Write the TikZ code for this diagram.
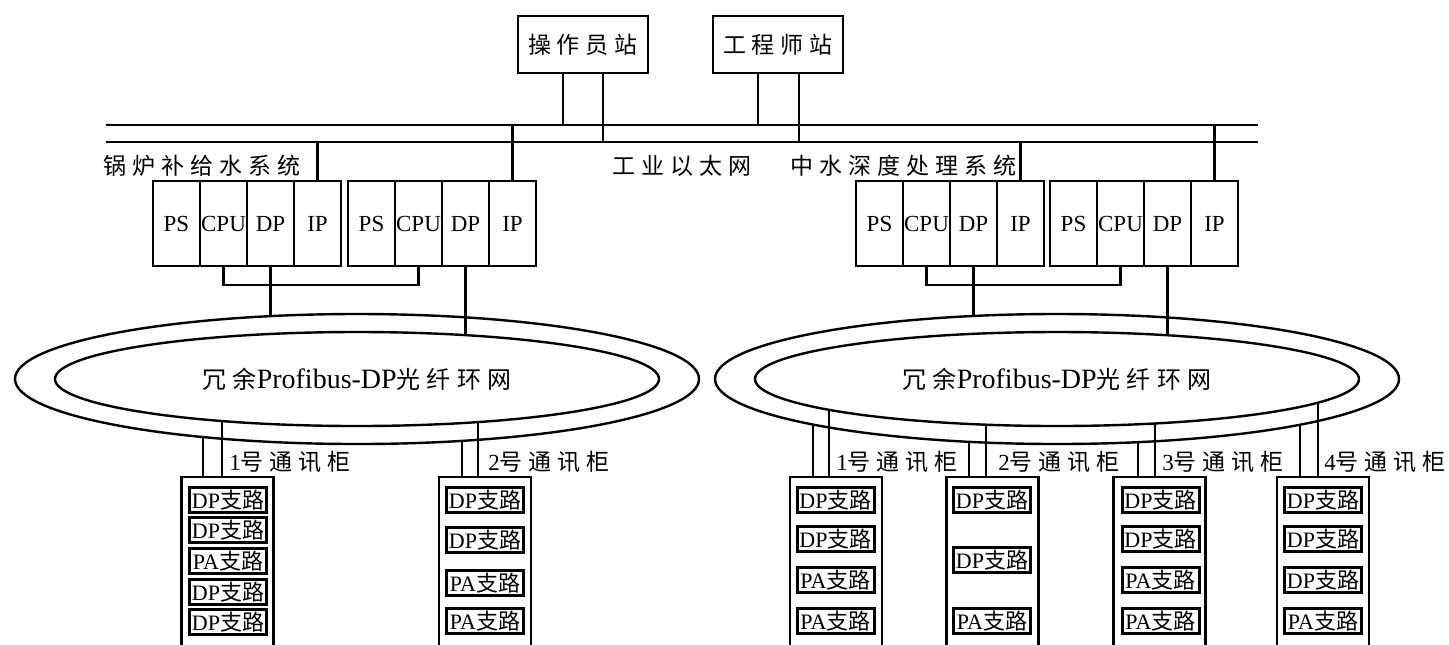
\documentclass[tikz,border=0pt]{standalone}
\usepackage{fontspec}
\setmainfont{Liberation Serif}
\newfontfamily\cjk{Noto Sans CJK SC}
\newfontfamily\cjkw[LetterSpace=26]{Noto Sans CJK SC}
\usetikzlibrary{shapes.geometric,calc}
\newcommand{\ringpt}[6]{\coordinate (#1) at ({#2},{379#6#5*sqrt(1-((#2-(#3))/#4)^2)});}
\newcommand{\dpz}{DP{\cjk\fontsize{11}{11}\selectfont 支路}}
\newcommand{\paz}{PA{\cjk\fontsize{11}{11}\selectfont 支路}}
\tikzset{
  box/.style={draw, rectangle, line width=1.1pt, inner sep=0pt, outer sep=0pt},
  stat/.style={box, minimum width=65pt, minimum height=28.5pt, font=\cjkw\fontsize{11.5}{12}\selectfont},
  mod/.style={box, minimum width=23.5pt, minimum height=42.5pt, font=\fontsize{11.5}{11.5}\selectfont},
  cab/.style={box, minimum width=46pt, minimum height=86.5pt, anchor=north},
  item/.style={draw, rectangle, line width=1.5pt, inner sep=0pt, outer sep=0pt, minimum width=38.5pt, minimum height=12.5pt, font=\fontsize{11}{11}\selectfont},
  lbl/.style={anchor=west, inner sep=0pt, font=\cjkw\fontsize{11.5}{12}\selectfont},
  ring/.style={ellipse, draw, line width=1.2pt, inner sep=0pt, outer sep=0pt},
  ln/.style={line width=1.1pt}
}
\begin{document}
\begin{tikzpicture}[x=0.5pt,y=-0.5pt]
\useasboundingbox (0,0) rectangle (1449,644);
\fill[white] (0,0) rectangle (1449,644);
\clip (0,0) rectangle (1449,644);

% stations
\node[stat] (op) at (583,44.5) {操作员站};
\node[stat] (eng) at (778,44.5) {工程师站};

% Ethernet bus
\coordinate (busTL) at (106,125);
\coordinate (busTR) at (1258,125);
\coordinate (busBL) at (106,142);
\coordinate (busBR) at (1258,142);
\draw[ln] (busTL) -- (busTR);
\draw[ln] (busBL) -- (busBR);

\coordinate (o1) at ($(op.south west)+(45,0)$);
\coordinate (o2) at ($(op.south west)+(85,0)$);
\coordinate (e1) at ($(eng.south west)+(45,0)$);
\coordinate (e2) at ($(eng.south west)+(86,0)$);
\draw[ln] (o1) -- (o1 |- busTL);
\draw[ln] (o2) -- (o2 |- busBL);
\draw[ln] (e1) -- (e1 |- busTL);
\draw[ln] (e2) -- (e2 |- busBL);

% labels
\node[lbl] (sysL) at (103,166) {锅炉补给水系统};
\node[lbl] (eth) at (612,166) {工业以太网};
\node[lbl] (sysR) at (790,166) {中水深度处理系统};

% left racks
\node[mod] (psL1) at (176.5,223.5) {PS};
\node[mod] (cpuL1) at (223.5,223.5) {CPU};
\node[mod] (dpL1) at (270.5,223.5) {DP};
\node[mod] (ipL1) at (317.5,223.5) {IP};
\node[mod] (psL2) at (371.5,223.5) {PS};
\node[mod] (cpuL2) at (418.5,223.5) {CPU};
\node[mod] (dpL2) at (465.5,223.5) {DP};
\node[mod] (ipL2) at (512.5,223.5) {IP};
% right racks
\node[mod] (psR1) at (879.5,223.5) {PS};
\node[mod] (cpuR1) at (926.5,223.5) {CPU};
\node[mod] (dpR1) at (973.5,223.5) {DP};
\node[mod] (ipR1) at (1020.5,223.5) {IP};
\node[mod] (psR2) at (1073.5,223.5) {PS};
\node[mod] (cpuR2) at (1120.5,223.5) {CPU};
\node[mod] (dpR2) at (1167.5,223.5) {DP};
\node[mod] (ipR2) at (1214.5,223.5) {IP};

\draw[ln] (ipL1.north) -- (ipL1.north |- busBL);
\draw[ln] (ipL2.north) -- (ipL2.north |- busTL);
\draw[ln] (ipR1.north) -- (ipR1.north |- busBL);
\draw[ln] (ipR2.north) -- (ipR2.north |- busTL);

\draw[ln] (cpuL1.south) -- ++(0,19) -| (cpuL2.south);
\draw[ln] (cpuR1.south) -- ++(0,19) -| (cpuR2.south);

% rings
\node[ring, minimum width=342pt, minimum height=65pt] (rLo) at (357,379) {};
\node[ring, minimum width=302pt, minimum height=47pt] (rLi) at (357,379)
  {{\cjkw\fontsize{12}{12}\selectfont 冗余}{\fontsize{14}{14}\selectfont Profibus-DP}{\cjkw\fontsize{12}{12}\selectfont 光纤环网}};
\node[ring, minimum width=342pt, minimum height=65pt] (rRo) at (1057,379) {};
\node[ring, minimum width=302pt, minimum height=47pt] (rRi) at (1057,379)
  {{\cjkw\fontsize{12}{12}\selectfont 冗余}{\fontsize{14}{14}\selectfont Profibus-DP}{\cjkw\fontsize{12}{12}\selectfont 光纤环网}};

\ringpt{dL1}{270.5}{357}{342}{65}{-}
\ringpt{dL2}{465.5}{357}{302}{47}{-}
\ringpt{dR1}{973.5}{1057}{342}{65}{-}
\ringpt{dR2}{1167.5}{1057}{302}{47}{-}
\draw[ln] (dpL1.south) -- (dL1);
\draw[ln] (dpL2.south) -- (dL2);
\draw[ln] (dpR1.south) -- (dR1);
\draw[ln] (dpR2.south) -- (dR2);

% cabinets
\node[cab] (cabL1) at (227.5,477) {};
\node[cab] (cabL2) at (485,477) {};
\node[cab] (cabR1) at (836,477) {};
\node[cab] (cabR2) at (992.5,477) {};
\node[cab] (cabR3) at (1159.5,477) {};
\node[cab] (cabR4) at (1323,477) {};

\ringpt{aL1o}{203}{357}{342}{65}{+}
\ringpt{aL1i}{222}{357}{302}{47}{+}
\ringpt{aL2o}{462}{357}{342}{65}{+}
\ringpt{aL2i}{478}{357}{302}{47}{+}
\ringpt{aR1o}{813}{1057}{342}{65}{+}
\ringpt{aR1i}{829}{1057}{302}{47}{+}
\ringpt{aR2o}{969}{1057}{342}{65}{+}
\ringpt{aR2i}{986}{1057}{302}{47}{+}
\ringpt{aR3o}{1138}{1057}{342}{65}{+}
\ringpt{aR3i}{1155}{1057}{302}{47}{+}
\ringpt{aR4o}{1300}{1057}{342}{65}{+}
\ringpt{aR4i}{1318}{1057}{302}{47}{+}
\draw[ln] (aL1o) -- (aL1o |- cabL1.north);
\draw[ln] (aL1i) -- (aL1i |- cabL1.north);
\draw[ln] (aL2o) -- (aL2o |- cabL2.north);
\draw[ln] (aL2i) -- (aL2i |- cabL2.north);
\draw[ln] (aR1o) -- (aR1o |- cabR1.north);
\draw[ln] (aR1i) -- (aR1i |- cabR1.north);
\draw[ln] (aR2o) -- (aR2o |- cabR2.north);
\draw[ln] (aR2i) -- (aR2i |- cabR2.north);
\draw[ln] (aR3o) -- (aR3o |- cabR3.north);
\draw[ln] (aR3i) -- (aR3i |- cabR3.north);
\draw[ln] (aR4o) -- (aR4o |- cabR4.north);
\draw[ln] (aR4i) -- (aR4i |- cabR4.north);

% cabinet labels
\node[lbl] (tL1) at (229,462) {{\rmfamily 1}号通讯柜};
\node[lbl] (tL2) at (488,462) {{\rmfamily 2}号通讯柜};
\node[lbl] (tR1) at (836,462) {{\rmfamily 1}号通讯柜};
\node[lbl] (tR2) at (998,462) {{\rmfamily 2}号通讯柜};
\node[lbl] (tR3) at (1162,462) {{\rmfamily 3}号通讯柜};
\node[lbl] (tR4) at (1324,462) {{\rmfamily 4}号通讯柜};

% cabinet items
\node[item] (L1a) at (228,500) {\dpz};
\node[item] (L1b) at (228,530) {\dpz};
\node[item] (L1c) at (228,561) {\paz};
\node[item] (L1d) at (228,592) {\dpz};
\node[item] (L1e) at (228,622) {\dpz};

\node[item] (L2a) at (485,500) {\dpz};
\node[item] (L2b) at (485,540) {\dpz};
\node[item] (L2c) at (485,583) {\paz};
\node[item] (L2d) at (485,621) {\paz};

\node[item] (R1a) at (835.5,500) {\dpz};
\node[item] (R1b) at (835.5,539) {\dpz};
\node[item] (R1c) at (835.5,580) {\paz};
\node[item] (R1d) at (835.5,621) {\paz};

\node[item] (R2a) at (992,500) {\dpz};
\node[item] (R2b) at (992,560) {\dpz};
\node[item] (R2c) at (992,621) {\paz};

\node[item] (R3a) at (1160.5,500) {\dpz};
\node[item] (R3b) at (1160.5,539) {\dpz};
\node[item] (R3c) at (1160.5,580) {\paz};
\node[item] (R3d) at (1160.5,621) {\paz};

\node[item] (R4a) at (1323,500) {\dpz};
\node[item] (R4b) at (1323,539) {\dpz};
\node[item] (R4c) at (1323,580) {\dpz};
\node[item] (R4d) at (1323,621) {\paz};
\end{tikzpicture}
\end{document}
